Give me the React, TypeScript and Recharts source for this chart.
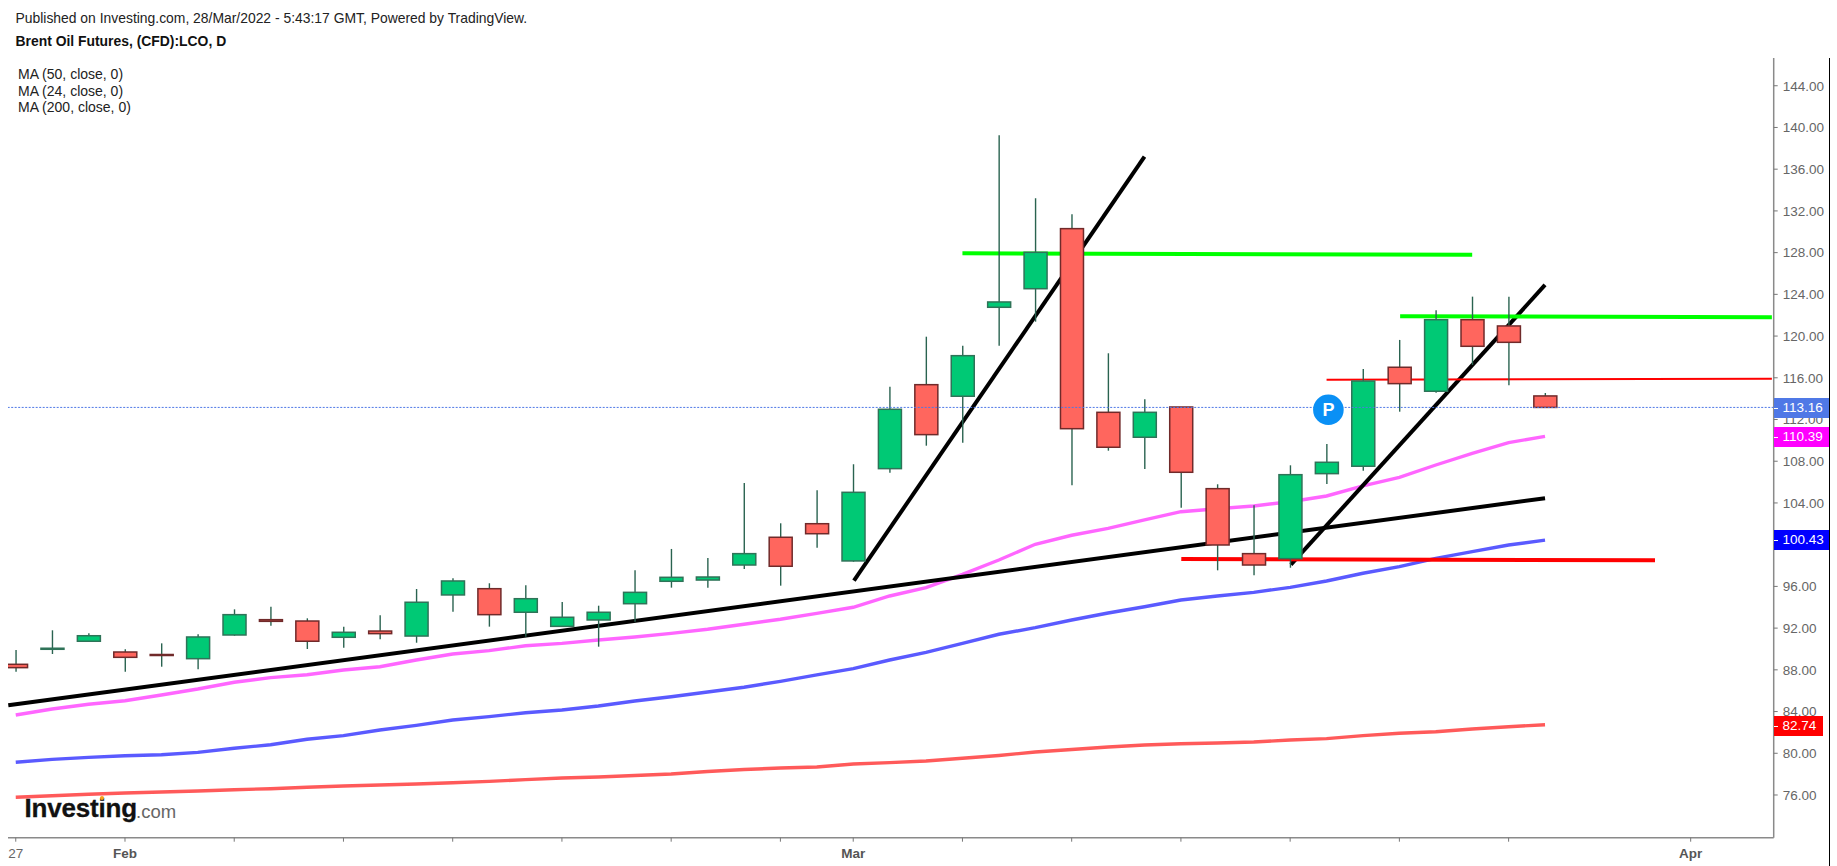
import React from "react";
import { ComposedChart, Bar, Line, XAxis, YAxis, ReferenceLine, ReferenceDot } from "recharts";

const opens = [88.53,89.97,90.74,89.71,89.47,89.07,91.34,92.81,92.68,91.12,91.72,91.24,95.18,95.78,93.52,92.17,92.78,94.34,96.49,96.61,98.05,100.71,102.01,98.44,107.29,115.34,114.23,122.76,124.54,130.3,112.69,110.3,113.2,105.37,99.14,98.66,106.81,107.52,117.01,114.71,121.57,120.97,114.26];
const highs = [89.9,91.79,91.5,89.97,90.54,91.41,93.8,94.05,92.94,92.14,93.23,95.75,96.78,96.3,96.11,94.5,94.15,97.54,99.59,98.72,105.91,102.05,105.21,107.71,115.15,119.94,119.08,139.25,133.21,131.68,118.35,113.94,113.2,105.79,103.78,107.61,109.65,116.84,119.63,122.47,123.78,123.78,114.54];
const lows = [87.82,89.52,90.67,87.82,88.3,88.05,91.27,92.23,90.0,90.12,90.93,90.6,93.57,92.14,91.18,92.2,90.22,92.62,95.88,95.88,97.67,96.07,99.71,98.37,106.9,109.49,109.78,119.08,121.38,105.69,109.01,107.26,103.55,97.54,97.06,97.79,105.82,107.09,112.75,114.57,117.23,115.28,113.16];
const closes = [88.21,90.07,91.27,89.2,89.38,91.15,93.29,92.65,90.74,91.6,91.47,94.48,96.52,93.29,94.82,93.04,93.52,95.43,96.87,96.9,99.14,97.93,101.05,105.02,112.98,110.55,118.12,123.27,128.03,111.12,109.34,112.69,106.94,99.97,98.05,106.71,107.9,115.69,115.44,121.57,119.02,119.4,113.16];

const ma24 = [83.67,84.25,84.7,85.04,85.59,86.16,86.81,87.25,87.53,87.99,88.3,88.94,89.52,89.84,90.31,90.54,90.86,91.15,91.5,91.89,92.37,92.85,93.42,94.0,95.08,95.88,97.16,98.53,100.04,100.9,101.57,102.37,103.16,103.45,103.71,104.12,104.67,105.63,106.46,107.64,108.76,109.78,110.39];
const ma50 = [79.14,79.42,79.61,79.77,79.86,80.09,80.48,80.82,81.34,81.69,82.23,82.68,83.19,83.51,83.89,84.15,84.53,85.01,85.42,85.88,86.33,86.9,87.51,88.11,88.94,89.68,90.54,91.41,92.04,92.78,93.45,94.05,94.7,95.08,95.43,95.91,96.52,97.26,97.89,98.69,99.33,99.97,100.43];
const ma200 = [75.78,75.93,76.07,76.19,76.29,76.38,76.51,76.6,76.74,76.86,76.96,77.05,77.18,77.31,77.47,77.63,77.73,77.87,78.01,78.25,78.44,78.59,78.68,78.97,79.1,79.26,79.52,79.79,80.12,80.36,80.6,80.79,80.92,80.99,81.08,81.27,81.4,81.69,81.92,82.07,82.33,82.55,82.74];

const yTicks = [76,80,84,88,92,96,100,104,108,112,116,120,124,128,132,136,140,144];
const xTicks = [0,3,6,9,12,15,18,21,23,26,29,32,35,38,41,46];
const xLabels: Record<number,string> = { 0: "27", 3: "Feb", 23: "Mar", 46: "Apr" };
const lastClose = 113.16;

const trendBlack1 = [{ i: -0.205, v: 84.6 }, { i: 42, v: 104.45 }];
const trendBlack2 = [{ i: 23.02, v: 96.55 }, { i: 31, v: 137.2 }];
const trendBlack3 = [{ i: 35.02, v: 98.08 }, { i: 42, v: 124.9 }];
const trendGreen1 = [{ i: 26, v: 127.94 }, { i: 40, v: 127.79 }];
const trendGreen2 = [{ i: 38.02, v: 121.9 }, { i: 48.23, v: 121.8 }];
const trendRedThin = [{ i: 36, v: 115.82 }, { i: 48.23, v: 115.91 }];
const trendRedThick = [{ i: 32.01, v: 98.63 }, { i: 45.02, v: 98.5 }];

const priceTags = [
  { text: "113.16", bg: "#4f78e6", top: 398, height: 20, width: 55 },
  { text: "110.39", bg: "#ff00ff", top: 427, height: 20, width: 55 },
  { text: "100.43", bg: "#0000ff", top: 530, height: 20, width: 56 },
  { text: "82.74", bg: "#ff0000", top: 716, height: 20, width: 49 },
];
const maLegend = ["MA (50, close, 0)", "MA (24, close, 0)", "MA (200, close, 0)"];

const data = opens.map((o, i) => ({
  i, open: o, high: highs[i], low: lows[i], close: closes[i],
  ma24: ma24[i], ma50: ma50[i], ma200: ma200[i],
}));

const FONT = "'Liberation Sans', Arial, sans-serif";
const BODY_WIDTH = 23;

function Candle(props: any) {
  const { x, y, width, height, payload } = props;
  const { open, high, low, close } = payload;
  const cx = x + width / 2;
  const up = close >= open;
  const perUnit = height / (high - low);
  const top = y + (high - Math.max(open, close)) * perUnit;
  const bottom = y + (high - Math.min(open, close)) * perUnit;
  return (
    <g>
      <line x1={cx} x2={cx} y1={y} y2={y + height} stroke="#2a6350" strokeWidth={1.4} />
      <rect
        x={cx - BODY_WIDTH / 2} y={top} width={BODY_WIDTH} height={Math.max(bottom - top, 1)}
        fill={up ? "#00c975" : "#ff665e"}
        stroke={up ? "#2f7358" : "#702a2a"} strokeWidth={1.5}
      />
    </g>
  );
}

function XTick(props: any) {
  const { x, y, payload } = props;
  const label = xLabels[payload.value];
  if (!label) return null;
  const bold = label !== "27";
  return (
    <text x={x} y={y + 14} textAnchor="middle" fontFamily={FONT} fontSize={13.5}
      fontWeight={bold ? 700 : 400} fill={bold ? "#555" : "#666"}>{label}</text>
  );
}

const chartMargin = { top: 58, left: 8, right: 8.3, bottom: 0 };
const layer: React.CSSProperties = { position: "absolute", left: 0, top: 0 };

export default function App() {
  const trendLine = (pts: any[], color: string, w: number, key: string) => (
    <Line key={key} data={pts} dataKey="v" stroke={color} strokeWidth={w} dot={false}
      activeDot={false} isAnimationActive={false} legendType="none" type="linear" />
  );
  const maLine = (k: string, color: string) => (
    <Line key={k} dataKey={k} stroke={color} strokeWidth={3.4} dot={false} activeDot={false}
      isAnimationActive={false} type="linear" />
  );
  const txt: React.CSSProperties = { position: "absolute", fontFamily: FONT, whiteSpace: "nowrap", lineHeight: "16px" };
  return (
    <div style={{ position: "absolute", left: 0, top: 0, width: 1837, height: 866, background: "#fff", overflow: "hidden" }}>
      <div style={layer}>
        <ComposedChart width={1837} height={866} data={data} margin={chartMargin}>
          <XAxis dataKey="i" type="number" domain={[-0.213, 48.28]} allowDataOverflow ticks={xTicks}
            interval={0} height={28.3} tick={<XTick />} tickSize={4}
            axisLine={{ stroke: "#8a8a8a", strokeWidth: 1.5 }} tickLine={{ stroke: "#777", strokeWidth: 1 }} />
          <YAxis orientation="right" type="number" domain={[71.906, 146.66]} allowDataOverflow ticks={yTicks}
            interval={0} width={55}
            tickFormatter={(v: number) => v.toFixed(2)} tickSize={4} tickMargin={5}
            tick={{ fontFamily: FONT, fontSize: 13.5, fill: "#666", textAnchor: "start" }}
            axisLine={{ stroke: "#8a8a8a", strokeWidth: 1.5 }} tickLine={{ stroke: "#777", strokeWidth: 1 }} />
          {maLine("ma200", "#ff5a5a")}
          {maLine("ma50", "#5a5aff")}
          {maLine("ma24", "#ff66ff")}
          {trendLine(trendBlack1, "#000", 4, "b1")}
          {trendLine(trendBlack2, "#000", 4, "b2")}
          {trendLine(trendBlack3, "#000", 4, "b3")}
          {trendLine(trendGreen1, "#00ff00", 4, "g1")}
          {trendLine(trendGreen2, "#00ff00", 4, "g2")}
          {trendLine(trendRedThin, "#ff0000", 2, "r1")}
          {trendLine(trendRedThick, "#ff0000", 4, "r2")}
        </ComposedChart>
      </div>
      <div style={layer}>
        <ComposedChart width={1837} height={866} data={data} margin={chartMargin}>
          <XAxis dataKey="i" type="number" domain={[-0.213, 48.28]} allowDataOverflow ticks={xTicks}
            interval={0} height={28.3} tick={false} tickLine={false} axisLine={false} />
          <YAxis orientation="right" type="number" domain={[71.906, 146.66]} allowDataOverflow ticks={yTicks}
            interval={0} width={55} tick={false} tickLine={false} axisLine={false} />
          <Bar dataKey={(d: any) => [d.low, d.high]} barSize={23} shape={<Candle />} isAnimationActive={false} />
          <ReferenceLine y={lastClose} stroke="#4f78e6" strokeWidth={1} strokeDasharray="2 1.5" />
          <ReferenceDot x={36.05} y={112.94} r={15.3} fill="#0a90f5" stroke="none"
            label={{ value: "P", position: "center", fill: "#fff", fontFamily: FONT, fontWeight: 700, fontSize: 18 }} />
        </ComposedChart>
      </div>

      <div style={{ ...txt, left: 15.5, top: 9.5, fontSize: 13.9, color: "#222" }}>
        Published on Investing.com, 28/Mar/2022 - 5:43:17 GMT, Powered by TradingView.
      </div>
      <div style={{ ...txt, left: 15.5, top: 33, fontSize: 13.9, fontWeight: 700, color: "#111" }}>
        Brent Oil Futures, (CFD):LCO, D
      </div>
      {maLegend.map((t, k) => (
        <div key={t} style={{ ...txt, left: 18, top: 66 + k * 16.7, fontSize: 14, color: "#222" }}>{t}</div>
      ))}

      {priceTags.map((p) => (
        <div key={p.text} style={{ ...txt, left: 1773.5, top: p.top, width: p.width, height: p.height, background: p.bg,
          color: "#fff", fontSize: 13.5, lineHeight: p.height + "px", paddingLeft: 9, boxSizing: "border-box" }}>
          {p.text}
          <div style={{ position: "absolute", left: 0, top: p.height / 2 - 0.5, width: 4, height: 1, background: "#fff" }} />
        </div>
      ))}

      <div style={{ position: "absolute", left: 1828.5, top: 58, width: 1.5, height: 808, background: "#000" }} />

      <div style={{ ...txt, left: 24.5, top: 794, fontSize: 26, lineHeight: "28px", fontWeight: 700, color: "#111", letterSpacing: "-0.2px", WebkitTextStroke: "0.3px #111" }}>Investing</div>
      <div style={{ ...txt, left: 136, top: 802, fontSize: 18.5, lineHeight: "20px", color: "#666" }}>.com</div>
      <div style={{ position: "absolute", left: 100, top: 796, width: 4, height: 4, background: "#f7a21b", borderRadius: 2 }} />
    </div>
  );
}
